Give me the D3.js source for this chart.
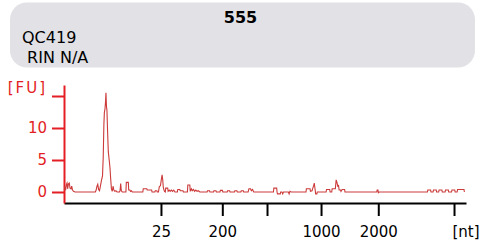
<!DOCTYPE html>
<html>
<head>
<meta charset="utf-8">
<script src="https://cdn.jsdelivr.net/npm/d3@7"></script>
<style>
  html, body { margin: 0; padding: 0; background: #fff; }
  svg text { font-family: "DejaVu Sans", Verdana, sans-serif; }
</style>
</head>
<body>
<div id="chart"></div>
<script>
// header texts
var sampleName = "555";
var sampleId = "QC419";
var rinText = "RIN N/A";

// migration time (s) of ladder ticks and their labels
var tickTimes = [31.06, 38.69, 44.25, 50.97, 58.09, 67.51];
var tickLabels = ["25", "200", "", "1000", "2000", ""];
var fuTicks = [0, 5, 10, 15];
var fuLabels = ["0", "5", "10", ""];

// electropherogram trace: time (s) and fluorescence (FU)
var times = [
  19.05, 19.12, 19.2, 19.3, 19.38, 19.45, 19.56, 19.66, 19.75, 19.87, 19.96, 20.06, 20.18, 20.37,
  22.9, 23.0, 23.1, 23.2, 23.3, 23.42, 23.54, 23.66, 23.79, 23.88, 23.96, 24.02, 24.1, 24.16, 24.22,
  24.28, 24.34, 24.42, 24.51, 24.62, 24.72, 24.81, 24.9, 25.0, 25.1, 25.2, 25.32, 25.45, 25.6,
  25.9, 25.97, 26.05, 26.13, 26.25, 26.7, 26.75, 27.0, 27.05, 27.2, 27.27, 27.4, 27.5,
  28.8, 28.86, 29.3, 29.35, 29.9, 29.95, 30.3, 30.35, 30.55, 30.6, 30.75, 30.85, 31.0, 31.1, 31.2,
  31.28, 31.35, 31.44, 31.5, 31.6, 31.65, 31.9, 31.95, 32.1, 32.2, 32.35, 32.5, 32.65, 32.8,
  33.1, 33.15, 33.4, 33.45, 33.8, 33.85, 34.35, 34.4, 34.65, 34.7, 34.85, 34.95, 35.1, 35.25,
  35.4, 35.55, 35.7, 35.9, 36.8, 36.85, 37.1, 37.15, 37.6, 37.65, 37.9, 37.95, 38.4, 38.45,
  38.7, 38.75, 39.3, 39.35, 39.6, 39.65, 40.2, 40.25, 40.5, 40.55, 41.0, 41.05, 41.3, 41.35,
  41.9, 42.0, 42.2, 42.3, 42.45, 42.6,
  45.05, 45.1, 45.45, 45.5, 45.55, 45.9, 45.95, 46.1, 46.2, 46.3, 46.9, 47.0, 47.1, 47.25,
  49.1, 49.15, 49.6, 49.65, 49.85, 49.95, 50.05, 50.13, 50.22, 50.3, 50.45, 50.5,
  51.6, 51.65, 52.05, 52.1, 52.3, 52.35, 52.75, 52.85, 52.95, 53.05, 53.15, 53.22, 53.4, 53.45,
  53.6, 53.9, 53.95,
  57.9, 57.95, 58.05, 58.1, 58.2,
  64.2, 64.25, 64.6, 64.65, 64.9, 64.95, 65.3, 65.35, 65.6, 65.65, 66.0, 66.05, 66.4, 66.45,
  66.8, 66.85, 67.2, 67.25, 67.6, 67.65, 67.9, 67.95, 68.75, 68.8
];
var fluor = [
  0.3, 0.8, 0.3, 1.2, 1.4, 0.5, 1.3, 1.4, 0.6, 0.5, 0.9, 0.3, 0.1, 0,
  0, 0.3, 0.9, 1.2, 0.4, 0.2, 1.0, 1.8, 2.5, 5.5, 10.5, 12.4, 13.0, 14.0, 15.5,
  13.4, 12.8, 9.5, 6.3, 5.0, 3.8, 2.0, 0.5, 0.1, 0.9, 0.3, 0.1, 0.2, 0,
  0, 0.2, 1.3, 0.2, 0, 0, 1.5, 1.5, 0.3, 0.3, 0.1, 0.2, 0,
  0, 0.5, 0.5, 0.3, 0.3, 0, 0, 0.2, 0.2, 0, 0, 0.8, 1.0, 1.9, 2.7,
  1.9, 0.7, 0.3, 0.1, 0, 0.6, 0.6, 0.1, 0.3, 0.1, 0.3, 0.1, 0.3, 0,
  0, 0.4, 0.4, 0.2, 0.2, 0, 0, 1.1, 1.1, 0.1, 0.5, 0.2, 0.4, 0.1,
  0.3, 0.1, 0.2, 0, 0, 0.2, 0.2, 0, 0, 0.2, 0.2, 0, 0, 0.25,
  0.25, 0, 0, 0.2, 0.2, 0, 0, 0.2, 0.2, 0, 0, 0.2, 0.2, 0,
  0, 0.5, 0.5, 0.2, 0.4, 0,
  0, 0.6, 0.6, 0, -0.3, -0.3, 0, 0, -0.3, 0, 0, -0.3, 0.1, 0,
  0, 0.5, 0.5, 0.1, 0.2, 0.6, 1.0, 1.4, 0.5, -0.3, -0.3, 0,
  0, 0.4, 0.4, 0, 0, 0.5, 0.5, 1.9, 1.5, 0.9, 1.0, 0.3, 0.3, 0.1,
  0.4, 0.4, 0,
  0, 0.3, 0.3, -0.1, 0,
  0, 0.3, 0.3, 0, 0, 0.3, 0.3, 0, 0, 0.3, 0.3, 0, 0, 0.3,
  0.3, 0, 0, 0.3, 0.3, 0, 0, 0.4, 0.4, 0
];

var width = 491, height = 245;
var red = "#e31e24";

var svg = d3.select("#chart").append("svg")
  .attr("width", width)
  .attr("height", height);

// header box
svg.append("rect")
  .attr("x", 10).attr("y", 2.5)
  .attr("width", 465).attr("height", 65)
  .attr("rx", 17)
  .attr("fill", "#e1e1e6");

svg.append("text")
  .attr("x", 240.5).attr("y", 23)
  .attr("text-anchor", "middle")
  .style("font-size", "16px").style("font-weight", "bold")
  .attr("fill", "#000")
  .text(sampleName);

svg.append("text")
  .attr("x", 22).attr("y", 43.3)
  .style("font-size", "16px")
  .attr("fill", "#000")
  .text(sampleId);

svg.append("text")
  .attr("x", 22).attr("y", 63.3)
  .style("font-size", "16px")
  .attr("fill", "#000")
  .attr("xml:space", "preserve")
  .text(" " + rinText);

// scales
var x = d3.scaleLinear().domain([19, 69]).range([64, 466]);
var y = d3.scaleLinear().domain([-1.72, 16.72]).range([203, 85]);

// x axis
var xAxis = svg.append("g")
  .attr("transform", "translate(0,203)")
  .call(d3.axisBottom(x)
    .tickValues(tickTimes)
    .tickFormat(function (d, i) { return tickLabels[i]; })
    .tickSize(13)
    .tickSizeOuter(0)
    .tickPadding(10));
xAxis.select(".domain").attr("stroke", "#000").attr("stroke-width", 2);
xAxis.selectAll(".tick line").attr("stroke", "#000").attr("stroke-width", 2);
xAxis.selectAll(".tick text")
  .style("font-size", "15px")
  .style("font-family", "DejaVu Sans, Verdana, sans-serif")
  .attr("fill", "#000");

svg.append("text")
  .attr("x", 466).attr("y", 236.7)
  .attr("text-anchor", "middle")
  .style("font-size", "15px")
  .attr("fill", "#000")
  .text("[nt]");

// y axis
var yAxis = svg.append("g")
  .attr("transform", "translate(64,0)")
  .call(d3.axisLeft(y)
    .tickValues(fuTicks)
    .tickFormat(function (d, i) { return fuLabels[i]; })
    .tickSize(12)
    .tickSizeOuter(0)
    .tickPadding(5));
yAxis.select(".domain").attr("stroke", red).attr("stroke-width", 2);
yAxis.selectAll(".tick line").attr("stroke", red).attr("stroke-width", 2);
yAxis.selectAll(".tick text")
  .style("font-size", "15px")
  .style("font-family", "DejaVu Sans, Verdana, sans-serif")
  .attr("fill", red);

svg.append("text")
  .attr("x", 47).attr("y", 93)
  .attr("text-anchor", "end")
  .style("font-size", "15px")
  .style("letter-spacing", "2px")
  .attr("fill", red)
  .text("[FU]");

// trace
var data = times.map(function (t, i) { return { t: t, fu: fluor[i] }; });

var line = d3.line()
  .x(function (d) { return x(d.t); })
  .y(function (d) { return y(d.fu); });

svg.append("path")
  .datum(data)
  .attr("d", line)
  .style("fill", "none")
  .style("stroke", "#cc3a3a")
  .style("stroke-width", "1.1");
</script>
</body>
</html>
